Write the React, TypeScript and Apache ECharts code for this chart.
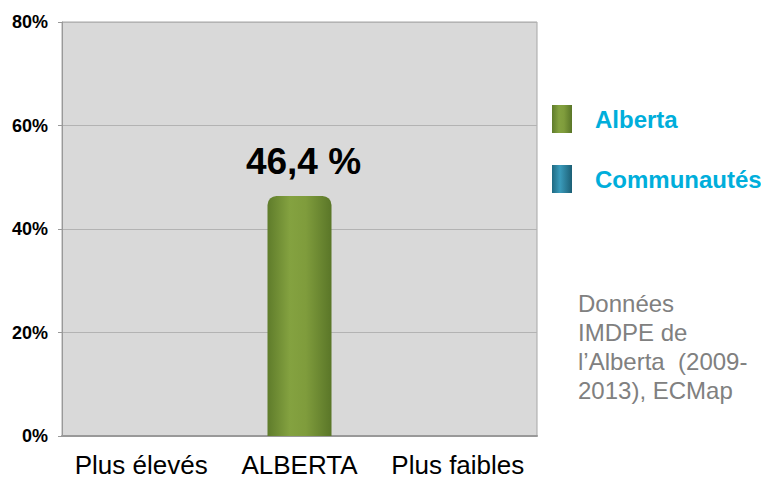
import React, { useEffect, useRef } from "react";
import * as echarts from "echarts";

const categories = ["Plus élevés", "ALBERTA", "Plus faibles"];
const albertaValues: (number | null)[] = [null, 46.4, null];
const communautesValues: (number | null)[] = [null, null, null];
const seriesNames = ["Alberta", "Communautés"];
const sourceLines = ["Données", "IMDPE de", "l’Alberta  (2009-", "2013), ECMap"];

export default function App() {
  const ref = useRef<HTMLDivElement>(null);
  useEffect(() => {
    if (!ref.current) return;
    const chart = echarts.init(ref.current, null, { renderer: "svg" });
    const font = "Liberation Sans, Arial, sans-serif";
    chart.setOption({
      animation: false,
      backgroundColor: "#ffffff",
      textStyle: { fontFamily: font },
      grid: {
        left: 62,
        right: 232,
        top: 22,
        bottom: 50,
        show: true,
        backgroundColor: "#d9d9d9",
        borderColor: "#a6a6a6",
        borderWidth: 1,
      },
      legend: {
        orient: "vertical",
        left: 547,
        top: 100,
        itemWidth: 20,
        itemHeight: 28,
        itemGap: 32,
        icon: "rect",
        textStyle: { color: "#00aedb", fontSize: 24, fontWeight: "bold", fontFamily: font, padding: [0, 0, 0, 18] },
        data: seriesNames,
      },
      xAxis: {
        type: "category",
        data: categories,
        axisLine: { show: true, lineStyle: { color: "#999999", width: 2 } },
        axisTick: { show: false },
        axisLabel: { color: "#000", fontSize: 26, margin: 16, interval: 0, fontFamily: font },
      },
      yAxis: {
        type: "value",
        min: 0,
        max: 80,
        interval: 20,
        axisLine: { show: true, lineStyle: { color: "#999999", width: 1 } },
        axisTick: { show: true, length: 4, lineStyle: { color: "#999999" } },
        splitLine: { lineStyle: { color: "#b3b3b3", width: 1 } },
        axisLabel: {
          color: "#000",
          fontSize: 18,
          fontWeight: "bold",
          margin: 14,
          fontFamily: font,
          formatter: "{value}%",
        },
      },
      series: [
        {
          name: seriesNames[0],
          type: "bar",
          data: albertaValues,
          barWidth: 64,
          barGap: "-100%",
          itemStyle: {
            borderRadius: [9, 9, 0, 0],
            color: new echarts.graphic.LinearGradient(0, 0, 1, 0, [
              { offset: 0, color: "#5f7c2b" },
              { offset: 0.35, color: "#84a240" },
              { offset: 0.6, color: "#7f9c3c" },
              { offset: 1, color: "#5a7628" },
            ]),
          },
          label: {
            show: true,
            position: "top",
            distance: 16,
            offset: [4, 0],
            fontSize: 37,
            fontWeight: "bold",
            color: "#000",
            fontFamily: font,
            formatter: (p: any) => p.value.toFixed(1).replace(".", ",") + " %",
          },
        },
        {
          name: seriesNames[1],
          type: "bar",
          data: communautesValues,
          barWidth: 64,
          itemStyle: {
            color: new echarts.graphic.LinearGradient(0, 0, 1, 0, [
              { offset: 0, color: "#1f6a82" },
              { offset: 0.4, color: "#3a9bbb" },
              { offset: 1, color: "#1c5f75" },
            ]),
          },
        },
      ],
      graphic: [
        {
          type: "text",
          left: 578,
          top: 289,
          style: {
            text: sourceLines.join("\n"),
            fontSize: 24,
            lineHeight: 29,
            fill: "#808080",
            fontFamily: font,
          },
        },
      ],
    });
    return () => chart.dispose();
  }, []);
  return <div ref={ref} style={{ width: 769, height: 486, margin: -8 }} />;
}
